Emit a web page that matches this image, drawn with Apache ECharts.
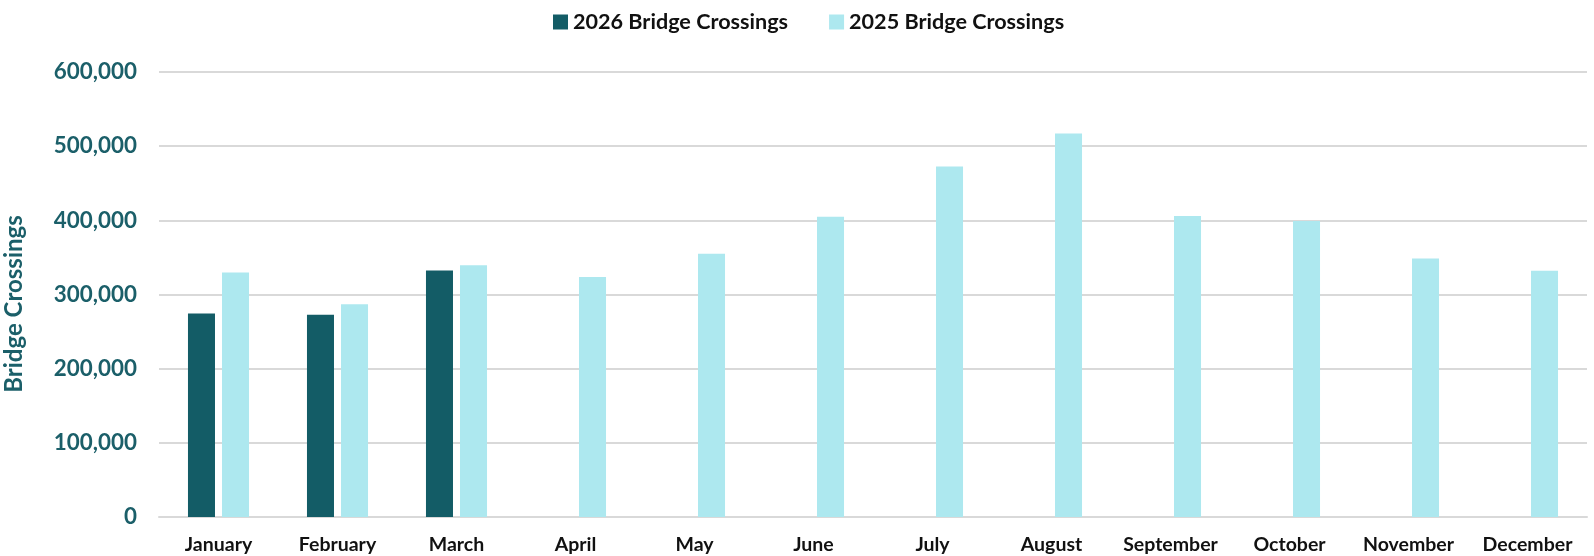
<!DOCTYPE html>
<html><head><meta charset="utf-8">
<script src="https://cdn.jsdelivr.net/npm/echarts@6/dist/echarts.min.js"></script>
<style>html,body{margin:0;padding:0;background:#fff}#c{width:1594px;height:556px}</style>
</head><body><div id="c"></div>
<script>
const categories = ['January','February','March','April','May','June','July','August','September','October','November','December'];
const series2026 = [274500, 272700, 332500, null, null, null, null, null, null, null, null, null];
const series2025 = [329800, 287000, 339600, 323500, 355000, 405000, 472600, 517000, 406000, 399000, 348600, 332000];
const seriesNames = ['2026 Bridge Crossings', '2025 Bridge Crossings'];
const axisTitle = 'Bridge Crossings';

const FONT = 'Lato, "Open Sans", sans-serif';
const chart = echarts.init(document.getElementById('c'));
chart.setOption({
  animation: false,
  legend: {
    top: 6, left: 548,
    itemWidth: 15, itemHeight: 15, itemGap: 41,
    icon: 'rect',
    textStyle: {fontFamily: FONT, fontWeight: 'bold', fontSize: 21.6, color: '#111'}
  },
  grid: {left: 159, right: 7, top: 72, bottom: 39, containLabel: false, outerBoundsMode: 'none'},
  graphic: [{
    type: 'text', x: 14.5, y: 304, rotation: Math.PI / 2,
    style: {text: axisTitle, fontFamily: FONT, fontWeight: 'bold', fontSize: 24, fill: '#1B5F69',
      align: 'center', verticalAlign: 'middle'}
  }],
  xAxis: {
    type: 'category', data: categories,
    axisLine: {lineStyle: {color: '#D9D9D9', width: 2}},
    axisTick: {show: false},
    axisLabel: {interval: 0, hideOverlap: false, fontFamily: FONT, fontWeight: 'bold', fontSize: 19.5,
      color: '#111', margin: 18}
  },
  yAxis: {
    type: 'value', min: 0, max: 600000, interval: 100000,
    axisLine: {show: false}, axisTick: {show: false},
    splitLine: {lineStyle: {color: '#D9D9D9', width: 2}},
    axisLabel: {fontFamily: FONT, fontWeight: 'bold', fontSize: 22.4, color: '#1B5F69', margin: 22,
      formatter: v => v.toLocaleString('en-US')}
  },
  series: [
    {name: seriesNames[0], type: 'bar', data: series2026, barWidth: '22.7%', barGap: '26%',
     itemStyle: {color: '#135C66'}},
    {name: seriesNames[1], type: 'bar', data: series2025, barWidth: '22.7%',
     itemStyle: {color: '#ADE8EF'}}
  ]
});
</script></body></html>
